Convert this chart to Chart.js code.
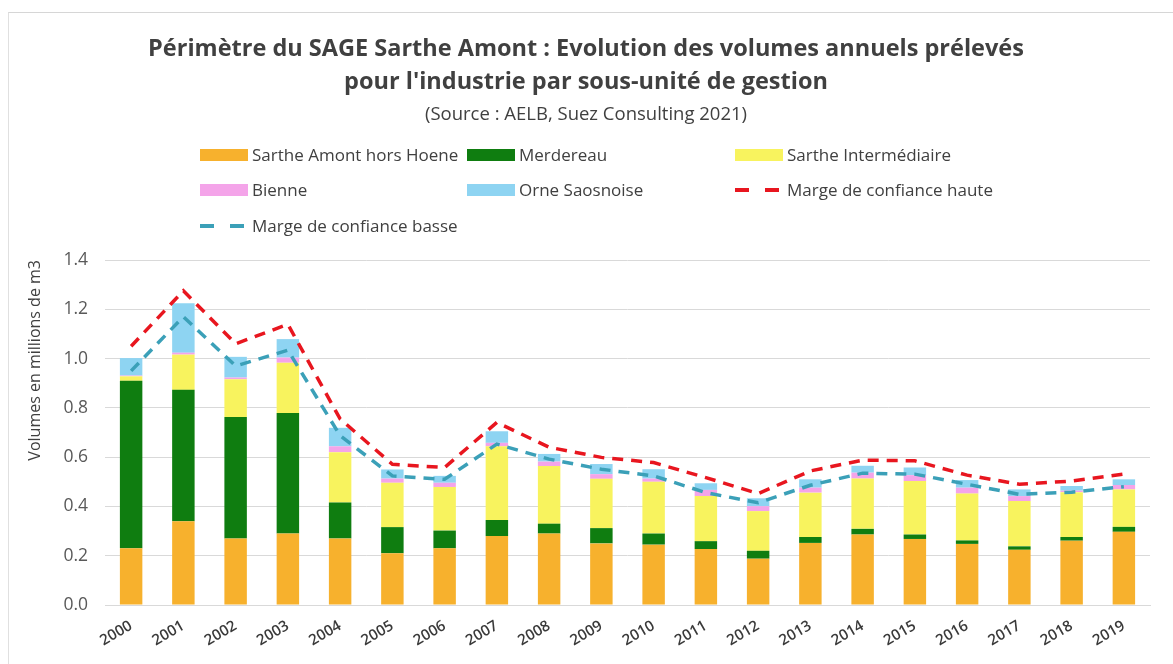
<!DOCTYPE html>
<html>

<head>
    <title>SAGE Sarthe Amont - volumes industrie</title>
    <script src="https://cdn.jsdelivr.net/npm/chart.js@4/dist/chart.umd.min.js"></script>
    <style>
        body {
            margin: 0;
            background-color: white;
            font-family: "Open Sans", sans-serif;
        }

        #wrap {
            position: relative;
            width: 1173px;
            height: 664px;
            overflow: hidden;
        }

        #frame {
            position: absolute;
            left: 8px;
            top: 12px;
            width: 1200px;
            height: 700px;
            border-top: 1px solid #d6d6d6;
            border-left: 1px solid #e0e0e0;
        }

        #legend {
            position: absolute;
            left: 0;
            top: 0;
        }

        .item {
            position: absolute;
            display: flex;
            align-items: center;
            font-size: 17px;
            color: #404040;
            white-space: nowrap;
        }

        .box {
            width: 48px;
            height: 12px;
            margin-right: 4px;
        }
    </style>
</head>

<body>
    <div id="wrap">
        <div id="frame"></div>
        <canvas id="chart" width="1173" height="664"></canvas>
        <div id="legend"></div>
    </div>

    <script>
        // values (millions de m3)
        const years = ['2000', '2001', '2002', '2003', '2004', '2005', '2006', '2007', '2008', '2009',
            '2010', '2011', '2012', '2013', '2014', '2015', '2016', '2017', '2018', '2019']
        const sartheAmont = [0.23, 0.34, 0.27, 0.29, 0.27, 0.21, 0.23, 0.28, 0.29, 0.25, 0.245, 0.227, 0.188, 0.252, 0.286, 0.268, 0.248, 0.224, 0.261, 0.297]
        const merdereau = [0.68, 0.533, 0.493, 0.489, 0.146, 0.106, 0.072, 0.065, 0.04, 0.062, 0.045, 0.032, 0.032, 0.024, 0.023, 0.018, 0.014, 0.014, 0.015, 0.02]
        const sartheInter = [0.018, 0.143, 0.153, 0.204, 0.204, 0.18, 0.177, 0.299, 0.234, 0.2, 0.21, 0.183, 0.161, 0.18, 0.204, 0.217, 0.19, 0.184, 0.182, 0.152]
        const bienne = [0.003, 0.008, 0.007, 0.021, 0.024, 0.017, 0.017, 0.014, 0.018, 0.019, 0.013, 0.025, 0.02, 0.02, 0.024, 0.024, 0.024, 0.02, 0.006, 0.018]
        const orne = [0.071, 0.2, 0.084, 0.075, 0.075, 0.037, 0.028, 0.047, 0.031, 0.041, 0.038, 0.027, 0.032, 0.034, 0.028, 0.031, 0.031, 0.027, 0.019, 0.023]
        const margeHaute = [1.05, 1.275, 1.06, 1.139, 0.755, 0.571, 0.558, 0.741, 0.64, 0.599, 0.578, 0.517, 0.452, 0.544, 0.588, 0.585, 0.527, 0.49, 0.503, 0.531]
        const margeBasse = [0.95, 1.17, 0.97, 1.034, 0.687, 0.524, 0.51, 0.653, 0.592, 0.551, 0.524, 0.456, 0.415, 0.486, 0.535, 0.531, 0.49, 0.449, 0.458, 0.48]
        const yTicks = [0, 0.2, 0.4, 0.6, 0.8, 1.0, 1.2, 1.4]

        const txt = '#404040'

        function bar(label, data, color) {
            return {
                type: 'bar', label: label, data: data, backgroundColor: color,
                stack: 'sum', order: 1, categoryPercentage: 1, barPercentage: 0.43
            }
        }

        function dashed(label, data, color, key) {
            return {
                type: 'line', label: label, data: data, borderColor: color, backgroundColor: color,
                borderWidth: 3.5, borderDash: [11, 8], pointRadius: 0, tension: 0,
                fill: false, stack: key, order: 0
            }
        }

        const datasets = [
            bar('Sarthe Amont hors Hoene', sartheAmont, '#f7b12d'),
            bar('Merdereau', merdereau, '#0f7d10'),
            bar('Sarthe Intermédiaire', sartheInter, '#f8f35e'),
            bar('Bienne', bienne, '#f4a4e9'),
            bar('Orne Saosnoise', orne, '#8ed4f2'),
            dashed('Marge de confiance haute', margeHaute, '#e8161f', 'hi'),
            dashed('Marge de confiance basse', margeBasse, '#3ba0b8', 'lo'),
        ]

        const chart = new Chart(document.getElementById('chart'), {
            data: { labels: years, datasets: datasets },
            options: {
                responsive: false,
                animation: false,
                layout: { padding: { left: 22, right: 23, top: 0, bottom: 0 } },
                plugins: {
                    legend: { display: false },
                    tooltip: { enabled: false },
                    title: {
                        display: true,
                        text: ['Périmètre du SAGE Sarthe Amont : Evolution des volumes annuels prélevés',
                            "pour l'industrie par sous-unité de gestion"],
                        color: txt,
                        font: { family: 'Open Sans', size: 23.5, weight: 'bold', lineHeight: 1.4 },
                        padding: { top: 33, bottom: 5 }
                    },
                    subtitle: {
                        display: true,
                        text: '(Source : AELB, Suez Consulting 2021)',
                        color: txt,
                        font: { family: 'Open Sans', size: 18.5, lineHeight: 1.2 },
                        padding: { top: 0, bottom: 134 }
                    }
                },
                scales: {
                    x: {
                        stacked: true,
                        grid: { display: false },
                        border: { color: '#d9d9d9' },
                        ticks: {
                            color: '#3a3a3a', minRotation: 30, maxRotation: 30, padding: 4,
                            font: { family: 'Open Sans', size: 15, weight: '600' }
                        },
                        afterFit: function (s) { s.height = 59 }
                    },
                    y: {
                        stacked: true,
                        min: 0, max: 1.4,
                        afterBuildTicks: function (s) { s.ticks = yTicks.map(v => ({ value: v })) },
                        grid: { color: '#d9d9d9', drawTicks: false },
                        border: { display: false },
                        ticks: {
                            color: '#595959', padding: 17,
                            font: { family: 'Open Sans', size: 17.5 },
                            callback: v => v.toFixed(1)
                        },
                        title: {
                            display: true, text: 'Volumes en millions de m3', color: txt, align: 'end',
                            font: { family: 'Open Sans', size: 16 }
                        },
                        afterFit: function (s) { s.width = 83 }
                    }
                }
            }
        })

        // legend laid out in three columns like the original
        const cols = [200, 467, 735]
        const rows = [155, 190, 226]
        const legend = document.getElementById('legend')
        chart.data.datasets.forEach(function (ds, i) {
            const item = document.createElement('div')
            item.className = 'item'
            item.style.left = cols[i % 3] + 'px'
            item.style.top = (rows[Math.floor(i / 3)] - 12) + 'px'
            let mark
            if (ds.type === 'bar') {
                mark = '<span class="box" style="background:' + ds.backgroundColor + '"></span>'
            } else {
                mark = '<svg width="48" height="12" style="margin-right:4px"><line x1="0" y1="6" x2="48" y2="6" stroke="' +
                    ds.borderColor + '" stroke-width="4" stroke-dasharray="14 16"/></svg>'
            }
            item.innerHTML = mark + '<span>' + ds.label + '</span>'
            legend.appendChild(item)
        })
    </script>
</body>

</html>
